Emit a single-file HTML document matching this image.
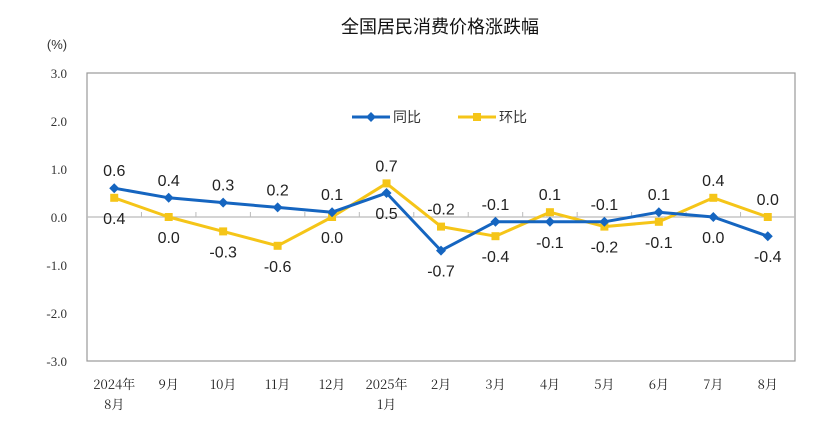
<!DOCTYPE html>
<html><head><meta charset="utf-8"><style>
body{margin:0;background:#fff;}
svg{display:block;font-family:"Liberation Sans","Noto Sans CJK SC",sans-serif;}
</style></head><body>
<svg id="c" width="824" height="446">
<text x="440" y="33" text-anchor="middle" font-size="18" fill="#111">全国居民消费价格涨跌幅</text>
<text x="57" y="49" text-anchor="middle" font-size="13" fill="#333">(%)</text>
<rect x="87" y="73" width="708" height="288" fill="none" stroke="#999" stroke-width="1.2"/>
<g id="yt"></g><g id="xt"></g><g id="series"></g><g id="lbl"></g>
<g>
<line x1="352" y1="117" x2="390" y2="117" stroke="#1565c0" stroke-width="3"/>
<path d="M371 112 L376 117 L371 122 L366 117Z" fill="#1565c0"/>
<text x="393" y="122" font-size="14" fill="#333">同比</text>
<line x1="458" y1="117" x2="496" y2="117" stroke="#f5c518" stroke-width="3"/>
<rect x="473" y="113" width="8" height="8" fill="#f5c518"/>
<text x="499" y="122" font-size="14" fill="#333">环比</text>
</g>
</svg>
<script>
const categories=["2024年|8月","9月","10月","11月","12月","2025年|1月","2月","3月","4月","5月","6月","7月","8月"];
const yoy=[0.6,0.4,0.3,0.2,0.1,0.5,-0.7,-0.1,-0.1,-0.1,0.1,0.0,-0.4];
const mom=[0.4,0.0,-0.3,-0.6,0.0,0.7,-0.2,-0.4,0.1,-0.2,-0.1,0.4,0.0];
const yTicks=[3,2,1,0,-1,-2,-3];
const yoyPos=["above","above","above","above","above","below","below","above","below","above","above","below","below"];
const momPos=["below","below","below","below","below","above","above","below","above","below","below","above","above"];
const NS="http://www.w3.org/2000/svg";
const L=87,R=795,T=73,B=361;
const bw=(R-L)/categories.length;
const xs=i=>L+bw*(i+0.5);
const ys=v=>T+(3-v)/6*(B-T);
function mk(t,a,p){const e=document.createElementNS(NS,t);for(const k in a)e.setAttribute(k,a[k]);p.appendChild(e);return e;}
const yt=document.getElementById('yt');
yTicks.forEach(v=>{const t=mk('text',{x:67,y:ys(v)+5,'text-anchor':'end','font-size':13,fill:'#333','font-family':'"Liberation Serif","Noto Serif CJK SC",serif'},yt);t.textContent=v.toFixed(1);

});
const xt=document.getElementById('xt');
const z=mk('line',{x1:L,x2:R,y1:ys(0),y2:ys(0),stroke:'#bbb','stroke-width':1.2},xt);


for(let i=1;i<categories.length;i++){const tk=mk('line',{x1:L+bw*i,x2:L+bw*i,y1:ys(0),y2:ys(0)-5,stroke:'#bbb'},xt);

}
categories.forEach((c,i)=>{c.split('|').forEach((s,j)=>{const t=mk('text',{x:xs(i),y:389+j*20,'text-anchor':'middle','font-size':13,fill:'#222','font-family':'"Noto Serif CJK SC",serif'},xt);t.textContent=s;

});});
const sg=document.getElementById('series'),lg=document.getElementById('lbl');
function series(vals,color,name,pos,diamond){
 const pl=mk('polyline',{points:vals.map((v,i)=>xs(i)+','+ys(v)).join(' '),fill:'none',stroke:color,'stroke-width':3,'stroke-linejoin':'round'},sg);
 
 
 vals.forEach((v,i)=>{const x=xs(i),y=ys(v);let m;
  if(diamond)m=mk('path',{d:`M${x} ${y-5}L${x+5} ${y}L${x} ${y+5}L${x-5} ${y}Z`,fill:color},sg);
  else m=mk('rect',{x:x-4,y:y-4,width:8,height:8,fill:color},sg);
  
  
  const t=mk('text',{x:x,y:pos[i]=='above'?y-12:y+26,'text-anchor':'middle','font-size':16,fill:'#222'},lg);t.textContent=v.toFixed(1);
  
  });
}
series(mom,'#f5c518','mom',momPos,false);
series(yoy,'#1565c0','yoy',yoyPos,true);
</script>
</body></html>
